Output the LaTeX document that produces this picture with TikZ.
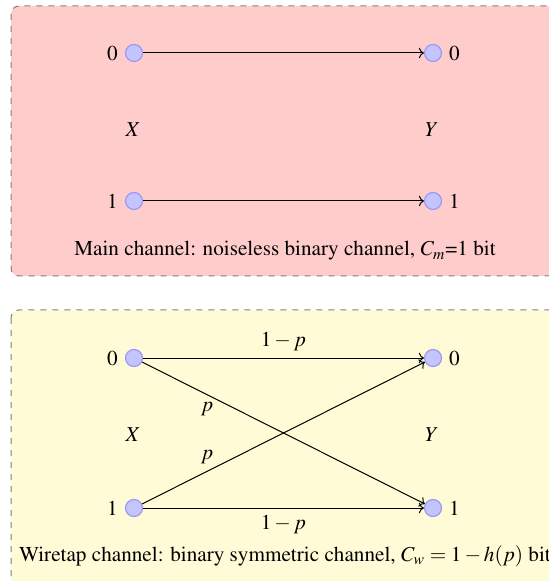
\documentclass[tikz,border=0pt]{standalone}
\usepackage[T1]{fontenc}
\usepackage{mathptmx}
\usepackage{tikz}
\usetikzlibrary{arrows.meta}
\definecolor{mainbg}{HTML}{FFCCCC}
\definecolor{tapbg}{HTML}{FFFBD6}
\definecolor{dotc}{HTML}{C4C4FF}
\definecolor{dotline}{HTML}{9A9AF0}
\tikzset{
  panel/.style={draw=gray, dashed, rounded corners=4pt, line width=0.5pt},
  symb/.style={circle, draw=dotline, fill=dotc, minimum size=8.5pt, inner sep=0pt,
               line width=0.6pt},
  chan/.style={->, line width=0.5pt},
  >={To[length=2.5pt]},
}
\begin{document}
\begin{tikzpicture}[x=0.5pt, y=-0.5pt, font=\fontsize{10.6}{12.5}\selectfont]
\useasboundingbox (0,0) rectangle (548,581);
% main channel
\draw[panel, fill=mainbg] (11,6) rectangle (570,276);
\node[symb, label=left:0] (x0) at (134,53) {};
\node[symb, label=left:1] (x1) at (134,201) {};
\node[symb, label=right:0] (y0) at (433,53) {};
\node[symb, label=right:1] (y1) at (433,201) {};
\node (lx) at (133,130) {$X$};
\node (ly) at (432,130) {$Y$};
\draw[chan] (x0) -- (y0);
\draw[chan] (x1) -- (y1);
\node (cm) at (285,251) {Main channel: noiseless binary channel, $C_m$=1 bit};
% wiretap channel
\draw[panel, fill=tapbg] (11,310) rectangle (570,600);
\node[symb, label=left:0] (a0) at (134,358) {};
\node[symb, label=left:1] (a1) at (134,508) {};
\node[symb, label=right:0] (b0) at (433,358) {};
\node[symb, label=right:1] (b1) at (433,508) {};
\node (wx) at (133,435) {$X$};
\node (wy) at (432,435) {$Y$};
\draw[chan] (a0) -- node[above] {$1-p$} (b0);
\draw[chan] (a1) -- node[below] {$1-p$} (b1);
\draw[chan] (a0) -- node[pos=0.23, below] {$p$} (b1);
\draw[chan] (a1) -- node[pos=0.23, above] {$p$} (b0);
\node (cw) at (285,556) {Wiretap channel: binary symmetric channel, $C_w=1-h(p)$ bit};
\end{tikzpicture}
\end{document}
